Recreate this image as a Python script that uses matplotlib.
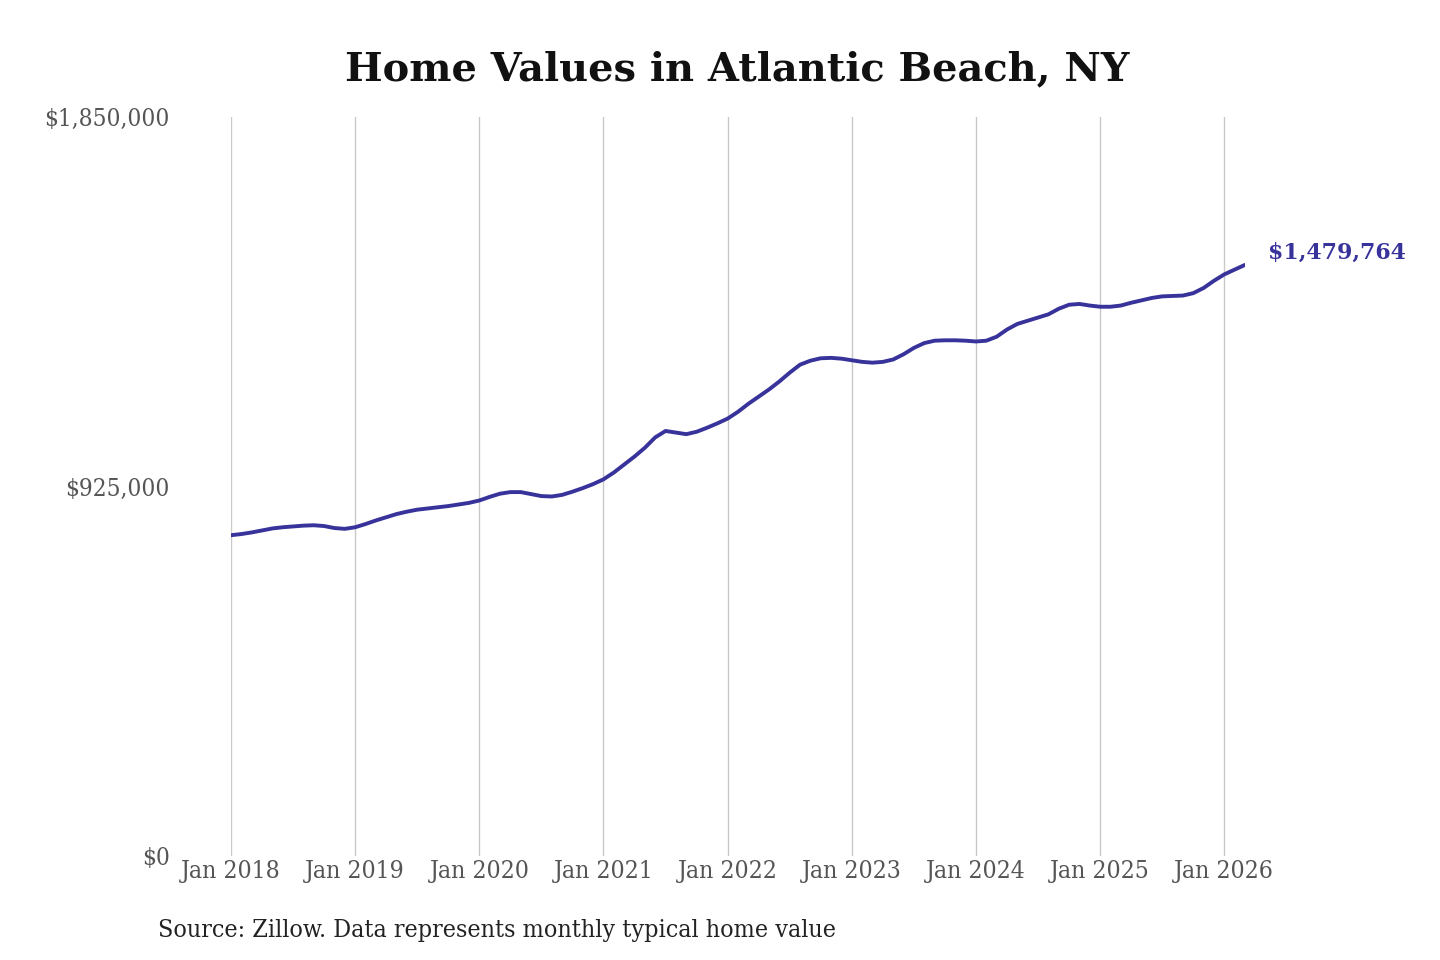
import matplotlib
matplotlib.use("Agg")
import matplotlib.pyplot as plt

# ---- data (thousands of dollars, monthly Jan 2018 .. Mar 2026) ----
values_2018 = [803, 806, 810, 815, 820, 823, 825, 827, 828, 826, 821, 819]
values_2019 = [823, 831, 840, 848, 856, 862, 867, 870, 873, 876, 880, 884]
values_2020 = [890, 899, 907, 911, 911, 906, 901, 900, 904, 912, 921, 931]
values_2021 = [943, 960, 980, 1000, 1022, 1048, 1064, 1060, 1056, 1062, 1072, 1083]
values_2022 = [1095, 1112, 1132, 1150, 1168, 1188, 1210, 1230, 1240, 1246, 1247, 1245]
values_2023 = [1241, 1237, 1235, 1237, 1243, 1256, 1272, 1284, 1290, 1291, 1291, 1290]
values_2024 = [1288, 1290, 1300, 1318, 1332, 1340, 1348, 1356, 1370, 1380, 1382, 1378]
values_2025 = [1375, 1375, 1378, 1385, 1391, 1397, 1401, 1402, 1403, 1409, 1422, 1440]
values_2026 = [1456, 1468, 1479.764]
x_tick_labels = ["Jan 2018", "Jan 2019", "Jan 2020", "Jan 2021", "Jan 2022",
                 "Jan 2023", "Jan 2024", "Jan 2025", "Jan 2026"]
y_ticks = [0, 925000, 1850000]
y_tick_labels = ["$0", "$925,000", "$1,850,000"]
last_label = "$1,479,764"
title = "Home Values in Atlantic Beach, NY"
source = "Source: Zillow. Data represents monthly typical home value"

values = [v * 1000 for v in (values_2018 + values_2019 + values_2020 + values_2021 +
                             values_2022 + values_2023 + values_2024 + values_2025 + values_2026)]
months = list(range(len(values)))

serif = "DejaVu Serif"
line_color = "#38339a"

fig = plt.figure(figsize=(14.4, 9.6), dpi=100)
W, H = 1440, 960
left_px, right_px = 231, 1245
top_px, bottom_px = 117, 856
ax = fig.add_axes([left_px / W, 1 - bottom_px / H, (right_px - left_px) / W, (bottom_px - top_px) / H])

ax.plot(months, values, color=line_color, linewidth=2.8, solid_capstyle="round",
        solid_joinstyle="round")
ax.set_xlim(0, len(values) - 1)
ax.set_ylim(0, 1850000)

tick_pos = [12 * i for i in range(len(x_tick_labels))]
ax.set_xticks(tick_pos)
ax.set_xticklabels(x_tick_labels)
ax.set_yticks(y_ticks)
ax.set_yticklabels(y_tick_labels)
ax.grid(axis="x", color="#c8c8c8", linewidth=1.0)
ax.grid(axis="y", visible=False)
for s in ax.spines.values():
    s.set_visible(False)
ax.tick_params(axis="x", length=0, colors="#555555", labelsize=17.7, pad=3)
ax.tick_params(axis="y", length=0, colors="#555555", labelsize=17.5, pad=44)
for lab in ax.get_xticklabels() + ax.get_yticklabels():
    lab.set_family(serif)
    lab.set_stretch("condensed")

ax.text(months[-1] + 2.2, values[-1] + 30000, last_label, color=line_color,
        fontsize=15.8, fontweight="bold", family=serif, ha="left", va="center",
        clip_on=False)

fig.text(737 / W, 1 - 69 / H, title, fontsize=28.7, fontweight="bold", family=serif,
         ha="center", va="center", color="#111111")
fig.text(158 / W, 1 - 931 / H, source, fontsize=17.9, family=serif, stretch="condensed",
         ha="left", va="center", color="#222222")

fig.savefig("out.png", dpi=100, facecolor="white")
